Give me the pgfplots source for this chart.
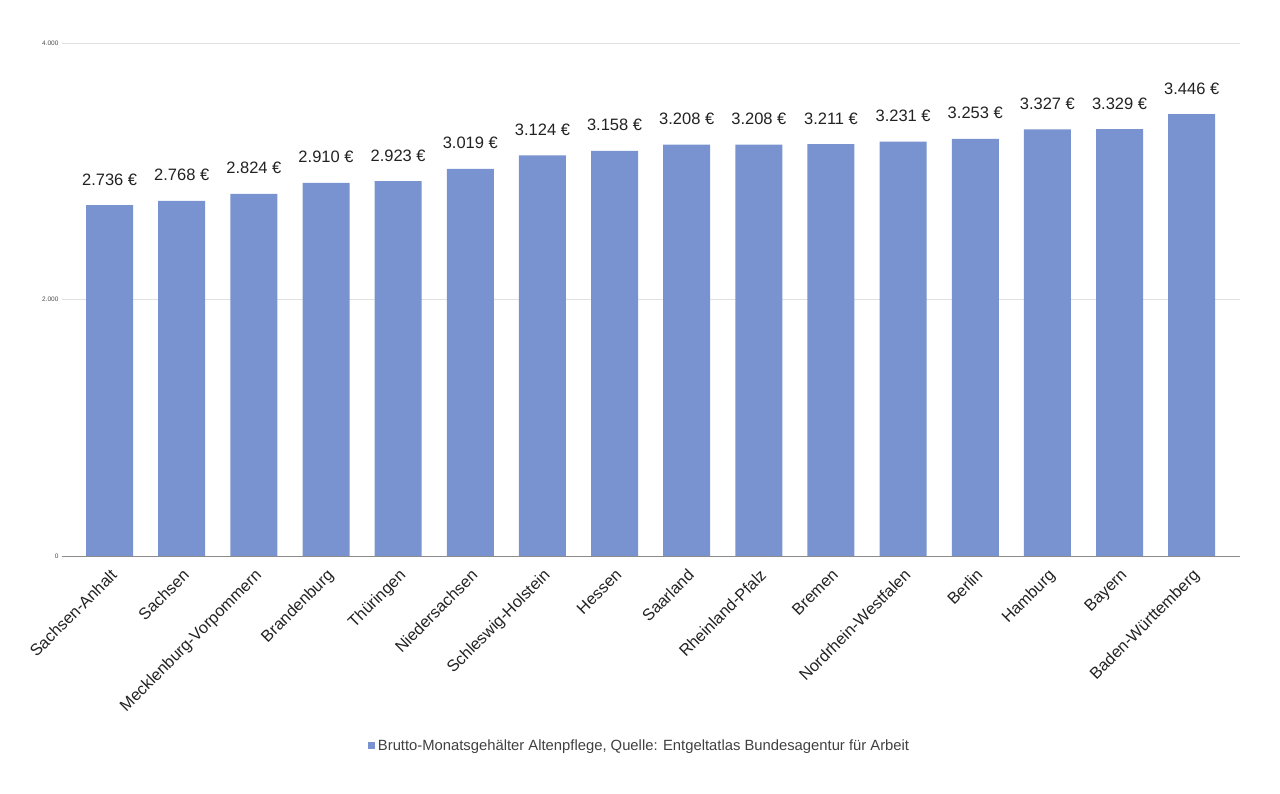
\documentclass[border=0pt]{standalone}
\usepackage{pgfplots}
\pgfplotsset{compat=1.18}
\usepackage{fontspec}
\setmainfont{Liberation Sans}
\definecolor{barblue}{RGB}{121,147,208}
\definecolor{txt}{RGB}{34,34,34}
\begin{document}
\begin{tikzpicture}[x=1pt,y=1pt]
\useasboundingbox (0,0) rectangle (1280,794);
\begin{axis}[
  at={(62pt,238pt)}, anchor=south west,
  scale only axis, width=1178pt, height=513pt,
  ymin=0, ymax=4000, xmin=-0.66, xmax=15.67,
  ybar, bar width=47pt,
  ytick={0,2000,4000}, yticklabels={0,{2.000},{4.000}},
  yticklabel style={font=\fontsize{6.5}{7}\selectfont, text=black!70},
  xtick={0,...,15},
  xticklabels={Sachsen-Anhalt,Sachsen,Mecklenburg-Vorpommern,Brandenburg,Thüringen,Niedersachsen,Schleswig-Holstein,Hessen,Saarland,Rheinland-Pfalz,Bremen,Nordrhein-Westfalen,Berlin,Hamburg,Bayern,Baden-Württemberg},
  xticklabel style={rotate=45, anchor=north east, font=\fontsize{16.3}{18}\selectfont, text=txt, inner sep=2pt},
  xticklabel shift=9pt,
  major tick length=0pt,
  axis x line*=bottom, axis y line*=left,
  x axis line style={draw=black!45, line width=0.8pt},
  y axis line style={draw=none},
  ymajorgrids, grid style={draw=black!12, line width=0.8pt},
  nodes near coords,
  point meta=explicit symbolic,
  nodes near coords style={font=\fontsize{16.5}{18}\selectfont, text=txt, anchor=base, inner sep=0pt, yshift=20pt},
  legend style={at={(0.4907,-0.37)}, anchor=center, draw=none, fill=none,
    font=\fontsize{14.8}{17}\selectfont, text=black!75, nodes={inner sep=2.5pt}},
]
\addplot[fill=barblue, draw=none,
  legend image code/.code={\fill[barblue] (0pt,-3.5pt) rectangle (7pt,3.5pt);}]
 coordinates {
 (0,2736) [2.736 €]
 (1,2768) [2.768 €]
 (2,2824) [2.824 €]
 (3,2910) [2.910 €]
 (4,2923) [2.923 €]
 (5,3019) [3.019 €]
 (6,3124) [3.124 €]
 (7,3158) [3.158 €]
 (8,3208) [3.208 €]
 (9,3208) [3.208 €]
 (10,3211) [3.211 €]
 (11,3231) [3.231 €]
 (12,3253) [3.253 €]
 (13,3327) [3.327 €]
 (14,3329) [3.329 €]
 (15,3446) [3.446 €]
 };
\addlegendentry{Brutto-Monatsgehälter Altenpflege, Quelle: Entgeltatlas Bundesagentur für Arbeit}
\end{axis}
\end{tikzpicture}
\end{document}
